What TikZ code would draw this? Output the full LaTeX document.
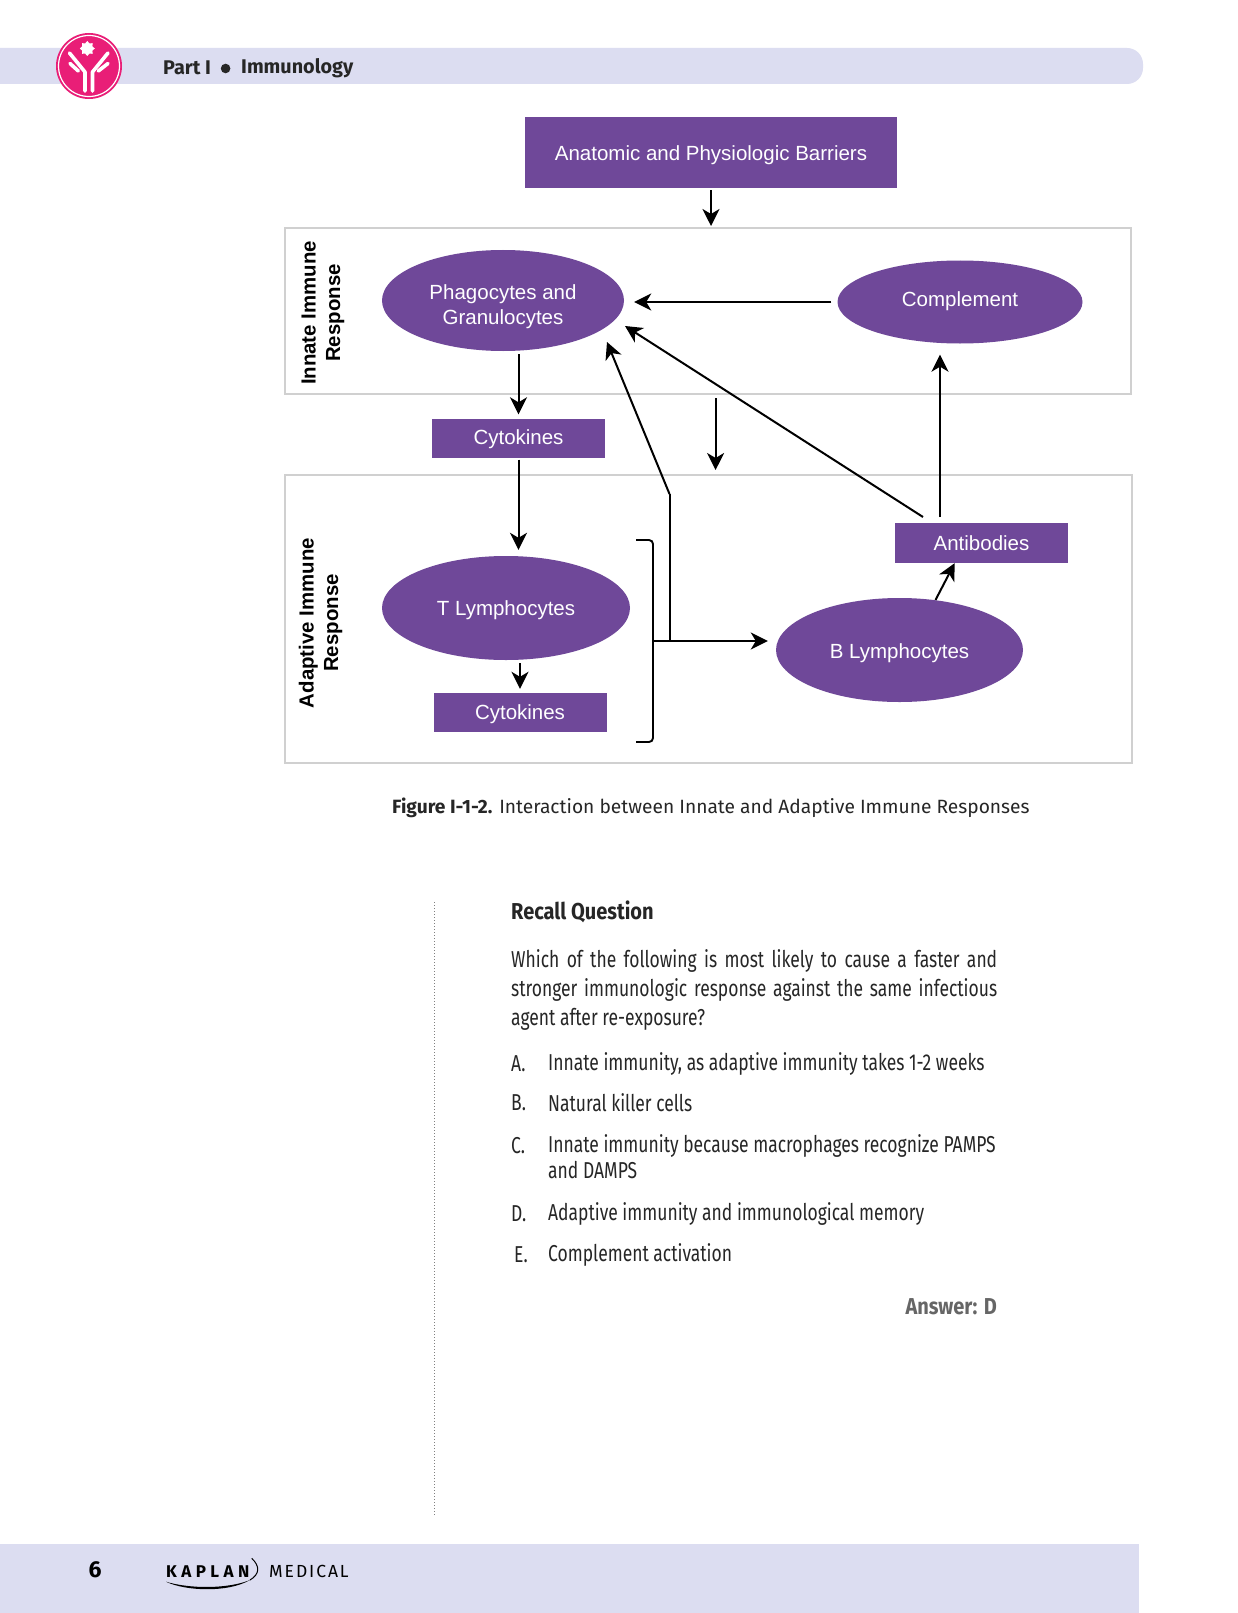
\documentclass[tikz,border=0pt]{standalone}
\usepackage{fontspec}
\setmainfont{Fira Sans}
\newfontfamily\labelfont{Liberation Sans}
\newfontfamily\narrowfont[FakeStretch=0.76]{Fira Sans}
\newfontfamily\headfont[FakeStretch=0.87]{Fira Sans}
\newfontfamily\kaplanfont[LetterSpace=26]{Fira Sans}
\newfontfamily\medicalfont[LetterSpace=11]{Fira Sans}
\usepackage{xcolor}
\usetikzlibrary{positioning,arrows.meta,shapes.geometric,calc}
\definecolor{kpurple}{HTML}{6F4899}
\definecolor{kband}{HTML}{DCDDF1}
\definecolor{kframe}{HTML}{D0D0D0}
\definecolor{kpink}{HTML}{E91E77}
\definecolor{kink}{HTML}{262626}
\tikzset{
  pbox/.style={fill=kpurple, text=white, inner sep=0pt, font=\labelfont\fontsize{20.5}{25}\selectfont},
  pell/.style={ellipse, fill=kpurple, text=white, inner sep=0pt, align=center, font=\labelfont\fontsize{20.5}{25}\selectfont},
  drop/.style={text height=#1, text depth=0pt},
  frame/.style={draw=kframe, line width=2pt, inner sep=0pt},
  sidelabel/.style={rotate=90, align=center, text=black, font=\labelfont\bfseries\fontsize{20.4}{24.5}\selectfont},
  flow/.style={line width=2pt, -{Stealth[length=17pt,width=17pt,inset=5pt]}},
  logoarm/.style={white, line width=3.6pt, line cap=round, line join=round},
  qtext/.style={anchor=west, inner sep=0pt, text=kink, font=\narrowfont\fontsize{23}{27}\selectfont},
}
\begin{document}
\begin{tikzpicture}[x=1pt,y=-1pt]
\useasboundingbox (0,0) rectangle (1237,1613);
\fill[white] (0,0) rectangle (1237,1613);

% Header band and logo
\begin{scope}
\clip (0,40) rectangle (1237,90);
\fill[kband, rounded corners=16pt] (-40,48) rectangle (1143,84);
\end{scope}
\fill[kpink] (89,66) circle[radius=33];
\draw[white, line width=1.2pt] (89,66) circle[radius=30.5];
\node[star, star points=8, star point ratio=1.35, fill=white, inner sep=0pt, minimum size=15pt] (logostar) at (87.3,48.5) {};
\draw[logoarm] (85,91) -- (85,72) -- (69.5,53);
\draw[logoarm] (92.5,91) -- (92.5,72) -- (108,53);
\draw[logoarm] (78.3,71) -- (70,63.5);
\draw[logoarm] (98.3,71) -- (108,63.5);
\node[anchor=west, inner sep=0pt, text=kink, font=\bfseries\fontsize{19.8}{24}\selectfont] (part) at (163,68) {Part I};
\fill[kink] (225.6,68.5) circle[radius=4.8];
\node[anchor=west, inner sep=0pt, text=kink, font=\bfseries\fontsize{19.8}{24}\selectfont] (immuno) at (241,68) {Immunology};

% Frames
\node[frame, minimum width=846pt, minimum height=166pt] (innate) at (708,311) {};
\node[frame, minimum width=847pt, minimum height=288pt] (adaptive) at (708.7,619) {};

% Boxes and ellipses
\node[pbox, drop=16.8pt, minimum width=372pt, minimum height=71pt] (barriers) at (711,152.5) {Anatomic and Physiologic Barriers};
\node[pell, minimum width=242pt, minimum height=101pt] (phago) at (503,300.5) {\rule{0pt}{27.4pt}Phagocytes and\\Granulocytes};
\node[pell, drop=8.6pt, minimum width=245pt, minimum height=83pt] (complement) at (960,302) {Complement};
\node[pbox, drop=13.6pt, minimum width=173pt, minimum height=39pt] (cytoa) at (518.5,438) {Cytokines};
\node[pell, drop=14.8pt, minimum width=248pt, minimum height=104pt] (tcell) at (506,608) {T Lymphocytes};
\node[pbox, drop=14.8pt, minimum width=173pt, minimum height=39pt] (cytob) at (520,712.5) {Cytokines};
\node[pell, drop=16.8pt, minimum width=247pt, minimum height=104pt] (bcell) at (899.5,650) {B Lymphocytes};
\node[pbox, minimum width=172.5pt, minimum height=40pt] (antibody) at (981.5,543) {Antibodies};

% Side labels
\node[sidelabel] (innatelabel) at (323,313) {Innate Immune\\Response};
\node[sidelabel] (adaptlabel) at (320.5,623) {Adaptive Immune\\Response};

% Free line ends
\coordinate (midtop) at (715.6,398);
\coordinate (midend) at (715.6,470);
\coordinate (abup) at (940,517);
\coordinate (ableft) at (923,517);
\coordinate (phagotipa) at (625,326);
\coordinate (phagotipb) at (607,342);
\coordinate (bend) at (669.5,494);
\coordinate (brtop) at (636,540);
\coordinate (brmid) at (653,641);
\coordinate (brbot) at (636,742);
\coordinate (stub) at (669.5,641);

% Arrows
\draw[flow, shorten <=2pt, shorten >=1pt] (barriers.south) -- (barriers.south |- innate.north);
\draw[flow, line width=2.6pt, shorten <=6pt, shorten >=10pt] (complement.west) -- (phago.east |- complement.west);
\draw[flow, shorten <=3pt, shorten >=4pt] (cytoa.north |- phago.south) -- (cytoa.north);
\draw[flow, shorten <=2pt, shorten >=6pt] (cytoa.south) -- (cytoa.south |- tcell.north);
\draw[flow] (midtop) -- (midend);
\draw[flow, shorten >=11pt] (abup) -- (abup |- complement.south);
\draw[flow] (ableft) -- (phagotipa);
\draw[line width=2pt] (stub) -- (bend);
\draw[flow] (bend) -- (phagotipb);
\draw[flow, shorten <=3pt, shorten >=4pt] (tcell.south -| cytob.north) -- (cytob.north);
\draw[flow, line width=2.6pt, shorten >=8pt] (brmid) -- (brmid -| bcell.west);
\draw[flow] (935.5,600) -- (antibody.south -| 954.6,0);
% Bracket
\draw[line width=1.9pt, rounded corners=4pt] (brtop) -| (brmid) |- (brbot);

% Caption
\node[anchor=west, inner sep=0pt, text=kink, font=\fontsize{19.2}{23}\selectfont] (caption) at (392,808) {\textbf{Figure I-1-2.} Interaction between Innate and Adaptive Immune Responses};

% Recall question
\draw[gray, line width=1pt, dotted] (434,902) -- (434,1515);
\node[qtext, font=\headfont\bfseries\fontsize{23}{27}\selectfont] (recall) at (511,912) {Recall Question};
\node[anchor=north west, inner sep=0pt, text width=486pt, align=justify, text=kink, font=\narrowfont\fontsize{23}{29}\selectfont] (stem) at (511,949) {Which of the following is most likely to cause a faster and\linebreak stronger immunologic response against the same infectious\linebreak agent after re-exposure?};
\node[qtext] (opta) at (511,1064) {A.};
\node[qtext] (optb) at (511,1103) {B.};
\node[qtext] (optc) at (511,1146) {C.};
\node[qtext] (optd) at (511,1214) {D.};
\node[qtext] (opte) at (514,1255) {E.};
\node[qtext] (texta) at (548,1064) {Innate immunity, as adaptive immunity takes 1-2 weeks};
\node[qtext] (textb) at (548,1103) {Natural killer cells};
\node[qtext] (textc) at (548,1146) {Innate immunity because macrophages recognize PAMPS};
\node[qtext] (textcc) at (548,1170) {and DAMPS};
\node[qtext] (textd) at (548,1214) {Adaptive immunity and immunological memory};
\node[qtext] (texte) at (548,1255) {Complement activation};
\node[anchor=east, inner sep=0pt, text=black!60, font=\headfont\bfseries\fontsize{23}{27}\selectfont] (answer) at (997,1307) {Answer: D};

% Footer
\fill[kband] (0,1544) rectangle (1139,1613);
\node[inner sep=0pt, text=black, font=\bfseries\fontsize{23}{27}\selectfont] (pagenum) at (95,1570) {6};
\node[anchor=west, inner sep=0pt, text=black, font=\kaplanfont\bfseries\fontsize{17}{20}\selectfont] (kaplan) at (166,1571.2) {KAPLAN};
\node[anchor=west, inner sep=0pt, text=black, font=\medicalfont\fontsize{17.5}{21}\selectfont] (medical) at (269,1571) {MEDICAL};
\draw[black, line width=1pt] (251.7,1558.3) .. controls (260,1566) and (260,1574) .. (250,1580);
\fill[black] (166,1581.7) .. controls (185,1591) and (228,1593) .. (250,1580) .. controls (228,1589) and (190,1589) .. (166,1581.7) -- cycle;
\end{tikzpicture}
\end{document}
